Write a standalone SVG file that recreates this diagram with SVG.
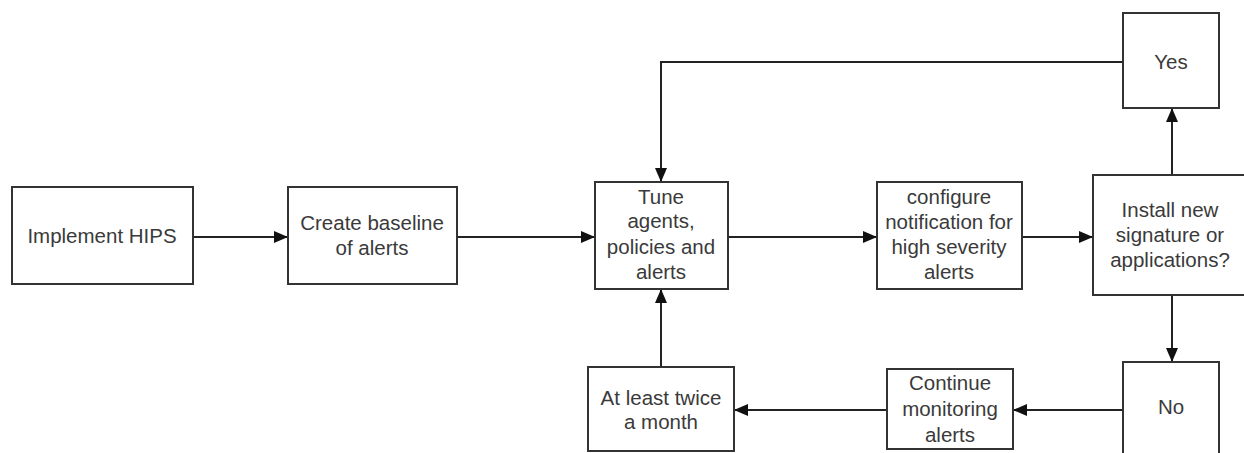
<svg xmlns="http://www.w3.org/2000/svg" width="1244" height="453" viewBox="0 0 1244 453">
<style>
.box{fill:#ffffff;stroke:#333333;stroke-width:2}
.lbl{font-family:"Liberation Sans",Arial,sans-serif;font-size:20.5px;fill:#3a3a3a;text-anchor:middle}
.con{fill:none;stroke:#222222;stroke-width:2}
</style>
<defs>
<marker id="arr" viewBox="0 0 14 12" refX="14" refY="6" markerWidth="14" markerHeight="12" markerUnits="userSpaceOnUse" orient="auto">
<path d="M0,0 L14,6 L0,12 Z" fill="#111111"/>
</marker>
</defs>
<rect width="1244" height="453" fill="#ffffff"/>
<g id="connectors">
<line class="con" x1="193" y1="237" x2="288" y2="237" marker-end="url(#arr)"/>
<line class="con" x1="457" y1="237" x2="595" y2="237" marker-end="url(#arr)"/>
<line class="con" x1="728" y1="237" x2="877" y2="237" marker-end="url(#arr)"/>
<line class="con" x1="1022" y1="237" x2="1093" y2="237" marker-end="url(#arr)"/>
<line class="con" x1="1172" y1="175" x2="1172" y2="108" marker-end="url(#arr)"/>
<line class="con" x1="1172" y1="295" x2="1172" y2="362" marker-end="url(#arr)"/>
<polyline class="con" points="1123,62 661,62 661,182" marker-end="url(#arr)"/>
<line class="con" x1="1123" y1="410" x2="1013" y2="410" marker-end="url(#arr)"/>
<line class="con" x1="887" y1="410" x2="734" y2="410" marker-end="url(#arr)"/>
<line class="con" x1="661" y1="367" x2="661" y2="289" marker-end="url(#arr)"/>
</g>
<g id="implement">
<rect class="box" x="12" y="187" width="181" height="97"/>
<text class="lbl" x="102" y="243">Implement HIPS</text>
</g>
<g id="baseline">
<rect class="box" x="288" y="187" width="169" height="97"/>
<text class="lbl" x="372" y="230">Create baseline</text>
<text class="lbl" x="372" y="255">of alerts</text>
</g>
<g id="tune">
<rect class="box" x="595" y="182" width="133" height="107"/>
<text class="lbl" x="661" y="204">Tune</text>
<text class="lbl" x="661" y="228">agents,</text>
<text class="lbl" x="661" y="254">policies and</text>
<text class="lbl" x="661" y="279">alerts</text>
</g>
<g id="configure">
<rect class="box" x="877" y="182" width="145" height="107"/>
<text class="lbl" x="949" y="204">configure</text>
<text class="lbl" x="949" y="229">notification for</text>
<text class="lbl" x="949" y="254">high severity</text>
<text class="lbl" x="949" y="279">alerts</text>
</g>
<g id="install">
<rect class="box" x="1093" y="175" width="152" height="120"/>
<text class="lbl" x="1170" y="217">Install new</text>
<text class="lbl" x="1170" y="242">signature or</text>
<text class="lbl" x="1170" y="267">applications?</text>
</g>
<g id="yes">
<rect class="box" x="1123" y="13" width="96" height="95"/>
<text class="lbl" x="1171" y="69">Yes</text>
</g>
<g id="no">
<rect class="box" x="1123" y="362" width="96" height="100"/>
<text class="lbl" x="1171" y="414">No</text>
</g>
<g id="continue">
<rect class="box" x="887" y="369" width="126" height="80"/>
<text class="lbl" x="950" y="390">Continue</text>
<text class="lbl" x="950" y="416">monitoring</text>
<text class="lbl" x="950" y="442">alerts</text>
</g>
<g id="twice">
<rect class="box" x="588" y="367" width="146" height="84"/>
<text class="lbl" x="661" y="405">At least twice</text>
<text class="lbl" x="661" y="429">a month</text>
</g>
</svg>
